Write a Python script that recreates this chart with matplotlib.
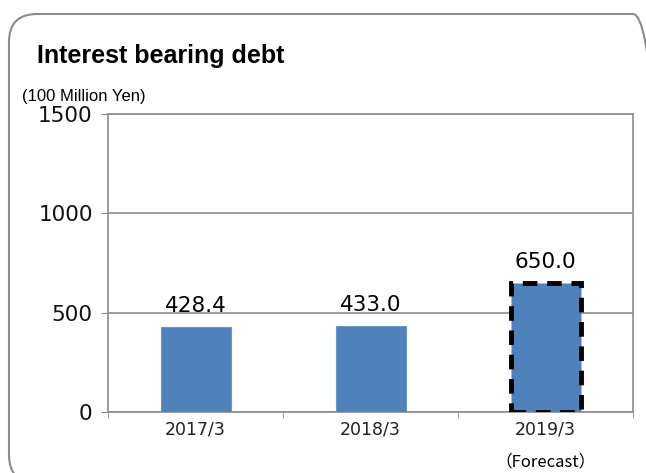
import matplotlib.pyplot as plt
from matplotlib.patches import FancyBboxPatch

# data
categories = ["2017/3", "2018/3", "2019/3"]
values = [428.4, 433.0, 650.0]
value_labels = ["428.4", "433.0", "650.0"]
forecast = [False, False, True]
yticks = [0, 500, 1000, 1500]

W, H = 646, 473
fig = plt.figure(figsize=(W / 100, H / 100), dpi=100)

# rounded outer frame (runs off right / bottom edge)
frame = FancyBboxPatch((9, -10), 652, 469, boxstyle="round,pad=0,rounding_size=28",
                       transform=None, facecolor="none", edgecolor="#8c8c8c", lw=1.5,
                       clip_on=False)
fig.patches.append(frame)

# plot area in pixels
left, right, top, bottom = 108, 633, 114, 412
ax = fig.add_axes([left / W, (H - bottom) / H, (right - left) / W, (bottom - top) / H])

x = list(range(len(categories)))
for xi, v, fc in zip(x, values, forecast):
    if fc:
        ax.bar(xi, v, width=0.4, color="#4f81bd", edgecolor="black", lw=3.5,
               linestyle=(0, (3, 2)), zorder=3)
    else:
        ax.bar(xi, v, width=0.4, color="#4f81bd", edgecolor="#6d96c9", lw=0.8, zorder=3)

for xi, v, lab in zip(x, values, value_labels):
    ax.annotate(lab, (xi, v), xytext=(0, 8), textcoords="offset points",
                ha="center", va="bottom", fontsize=15.5, color="black")

ax.set_xlim(-0.5, len(categories) - 0.5)
ax.set_ylim(0, 1500)
ax.set_yticks(yticks)
ax.set_yticklabels([str(t) for t in yticks], fontsize=15.5, color="#111111")
ax.set_xticks(x)
ax.set_xticklabels(categories, fontsize=12.5, color="#222222")
ax.tick_params(axis="x", length=0, pad=6)
ax.set_xticks([-0.5, 0.5, 1.5, 2.5], minor=True)
ax.tick_params(axis="x", which="minor", length=4, color="#888888")
ax.tick_params(axis="y", length=5, color="#888888", pad=6)

ax.grid(axis="y", color="#8c8c8c", lw=1.2, zorder=0)
ax.set_axisbelow(True)
for s in ax.spines.values():
    s.set_color("#8c8c8c")
    s.set_linewidth(1.2)

ax.text(2, -0.168, "（Forecast）", transform=ax.get_xaxis_transform(), ha="center",
        va="center", fontsize=12, family=["Noto Sans CJK JP", "DejaVu Sans"])

fig.text(37 / W, 1 - 56 / H, "Interest bearing debt", fontsize=18, fontweight="bold",
         family="Liberation Sans", va="center", ha="left")
fig.text(22 / W, 1 - 96 / H, "(100 Million Yen)", fontsize=12,
         family="Liberation Sans", va="center", ha="left")

fig.savefig("out.png", dpi=100)
